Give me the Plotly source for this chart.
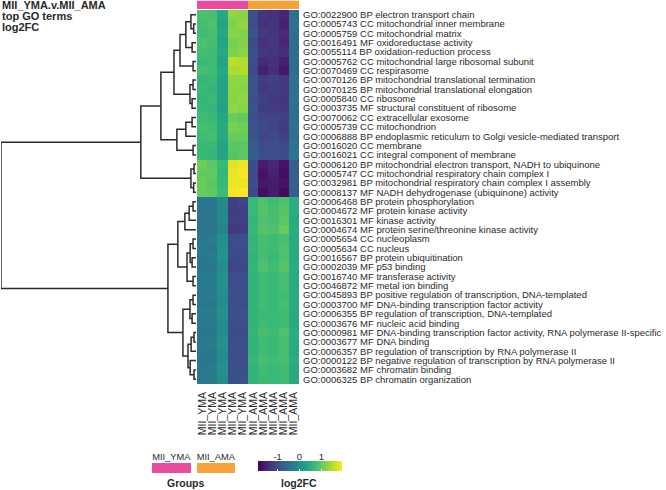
import plotly.graph_objects as go

W, H = 666, 490

title_lines = ["MII_YMA.v.MII_AMA", "top GO terms", "log2FC"]
columns = ["MII_YMA"] * 5 + ["MII_AMA"] * 5
col_group = [0, 0, 0, 0, 0, 1, 1, 1, 1, 1]
groups = ["MII_YMA", "MII_AMA"]
group_colors = ["#ea4b9c", "#f7a139"]

go_terms = [
    "GO:0022900 BP electron transport chain",
    "GO:0005743 CC mitochondrial inner membrane",
    "GO:0005759 CC mitochondrial matrix",
    "GO:0016491 MF oxidoreductase activity",
    "GO:0055114 BP oxidation-reduction process",
    "GO:0005762 CC mitochondrial large ribosomal subunit",
    "GO:0070469 CC respirasome",
    "GO:0070126 BP mitochondrial translational termination",
    "GO:0070125 BP mitochondrial translational elongation",
    "GO:0005840 CC ribosome",
    "GO:0003735 MF structural constituent of ribosome",
    "GO:0070062 CC extracellular exosome",
    "GO:0005739 CC mitochondrion",
    "GO:0006888 BP endoplasmic reticulum to Golgi vesicle-mediated transport",
    "GO:0016020 CC membrane",
    "GO:0016021 CC integral component of membrane",
    "GO:0006120 BP mitochondrial electron transport, NADH to ubiquinone",
    "GO:0005747 CC mitochondrial respiratory chain complex I",
    "GO:0032981 BP mitochondrial respiratory chain complex I assembly",
    "GO:0008137 MF NADH dehydrogenase (ubiquinone) activity",
    "GO:0006468 BP protein phosphorylation",
    "GO:0004672 MF protein kinase activity",
    "GO:0016301 MF kinase activity",
    "GO:0004674 MF protein serine/threonine kinase activity",
    "GO:0005654 CC nucleoplasm",
    "GO:0005634 CC nucleus",
    "GO:0016567 BP protein ubiquitination",
    "GO:0002039 MF p53 binding",
    "GO:0016740 MF transferase activity",
    "GO:0046872 MF metal ion binding",
    "GO:0045893 BP positive regulation of transcription, DNA-templated",
    "GO:0003700 MF DNA-binding transcription factor activity",
    "GO:0006355 BP regulation of transcription, DNA-templated",
    "GO:0003676 MF nucleic acid binding",
    "GO:0000981 MF DNA-binding transcription factor activity, RNA polymerase II-specific",
    "GO:0003677 MF DNA binding",
    "GO:0006357 BP regulation of transcription by RNA polymerase II",
    "GO:0000122 BP negative regulation of transcription by RNA polymerase II",
    "GO:0003682 MF chromatin binding",
    "GO:0006325 BP chromatin organization",
]

log2fc = [
    [0.85, 0.80, 0.40, 1.30, 1.25, -0.95, -1.30, -1.35, -1.50, -0.50],
    [0.80, 0.85, 0.35, 1.20, 1.30, -1.00, -1.35, -1.30, -1.55, -0.45],
    [0.75, 0.80, 0.40, 1.25, 1.20, -0.90, -1.25, -1.30, -1.45, -0.50],
    [0.85, 0.80, 0.35, 1.15, 1.20, -1.05, -1.35, -1.25, -1.50, -0.55],
    [0.80, 0.75, 0.40, 1.20, 1.25, -0.95, -1.25, -1.30, -1.40, -0.50],
    [0.70, 0.75, 0.35, 1.55, 1.50, -1.00, -1.45, -1.35, -1.55, -0.55],
    [0.80, 0.75, 0.40, 1.45, 1.50, -1.05, -1.55, -1.40, -1.65, -0.55],
    [0.65, 0.70, 0.35, 1.30, 1.30, -0.90, -1.20, -1.15, -1.25, -0.45],
    [0.70, 0.65, 0.30, 1.30, 1.25, -0.90, -1.25, -1.20, -1.25, -0.50],
    [0.65, 0.70, 0.35, 1.25, 1.30, -0.95, -1.15, -1.25, -1.30, -0.45],
    [0.70, 0.65, 0.30, 1.30, 1.25, -0.90, -1.20, -1.20, -1.25, -0.50],
    [0.75, 0.70, 0.40, 1.05, 1.00, -0.95, -1.10, -1.10, -1.15, -0.50],
    [0.80, 0.75, 0.45, 1.15, 1.10, -0.90, -1.05, -1.10, -1.20, -0.45],
    [0.75, 0.80, 0.40, 1.05, 1.05, -0.90, -1.10, -1.05, -1.15, -0.50],
    [0.70, 0.70, 0.35, 0.95, 0.95, -0.80, -1.00, -1.00, -1.05, -0.45],
    [0.70, 0.65, 0.35, 0.90, 0.95, -0.75, -0.95, -0.95, -1.00, -0.40],
    [1.10, 0.95, 0.70, 1.80, 1.85, -1.00, -1.60, -1.50, -1.70, -0.75],
    [1.00, 1.00, 0.65, 1.85, 1.90, -1.05, -1.70, -1.55, -1.75, -0.75],
    [1.05, 0.95, 0.70, 1.85, 1.85, -1.00, -1.65, -1.60, -1.70, -0.70],
    [1.05, 1.00, 0.75, 1.90, 1.95, -1.05, -1.75, -1.60, -1.80, -0.80],
    [-0.40, -0.35, -0.05, -1.15, -1.10, 0.70, 0.85, 0.75, 0.85, 0.50],
    [-0.45, -0.40, -0.10, -1.20, -1.15, 0.70, 0.90, 0.80, 0.90, 0.50],
    [-0.40, -0.35, -0.05, -1.15, -1.15, 0.65, 0.85, 0.80, 0.95, 0.45],
    [-0.45, -0.40, -0.15, -1.25, -1.20, 0.70, 0.90, 0.85, 1.05, 0.50],
    [-0.35, -0.30, 0.00, -1.00, -0.95, 0.65, 0.80, 0.75, 0.80, 0.45],
    [-0.30, -0.35, 0.05, -1.00, -1.00, 0.65, 0.80, 0.75, 0.85, 0.45],
    [-0.35, -0.30, 0.10, -1.05, -1.00, 0.60, 0.80, 0.70, 0.85, 0.45],
    [-0.40, -0.35, 0.00, -1.10, -1.05, 0.65, 0.85, 0.75, 0.90, 0.50],
    [-0.35, -0.30, 0.05, -1.00, -0.95, 0.60, 0.75, 0.70, 0.80, 0.45],
    [-0.30, -0.30, 0.05, -0.95, -0.95, 0.60, 0.75, 0.70, 0.80, 0.45],
    [-0.35, -0.30, 0.00, -0.95, -0.95, 0.60, 0.75, 0.70, 0.75, 0.45],
    [-0.35, -0.35, 0.00, -1.00, -0.95, 0.60, 0.75, 0.70, 0.80, 0.45],
    [-0.30, -0.30, 0.05, -0.95, -0.90, 0.60, 0.70, 0.70, 0.75, 0.45],
    [-0.35, -0.30, 0.00, -0.95, -0.95, 0.60, 0.75, 0.70, 0.75, 0.45],
    [-0.40, -0.35, 0.00, -1.00, -1.00, 0.65, 0.80, 0.75, 0.85, 0.50],
    [-0.35, -0.30, 0.05, -0.95, -0.95, 0.60, 0.75, 0.70, 0.80, 0.45],
    [-0.35, -0.35, 0.00, -1.00, -0.95, 0.60, 0.75, 0.70, 0.80, 0.45],
    [-0.40, -0.35, 0.00, -1.00, -1.00, 0.65, 0.80, 0.75, 0.80, 0.50],
    [-0.35, -0.30, 0.05, -0.95, -0.95, 0.60, 0.75, 0.70, 0.75, 0.45],
    [-0.35, -0.30, 0.00, -0.95, -0.90, 0.60, 0.70, 0.70, 0.75, 0.45],
]

# row dendrogram: (merge height, left, right); leaves are row indices
row_tree = (1.0,
    (0.283,
        (0.18,
            (0.113,
                (0.082,
                    (0.052, (0.026, 0, (0.012, 1, 2)), (0.02, 3, 4)),
                    (0.015, 5, 6)),
                (0.031, (0.015, 7, 8), (0.02, 9, 10))),
            (0.098, (0.052, (0.02, 11, 12), 13), (0.015, 14, 15))),
        (0.026, (0.01, 16, 17), (0.012, 18, 19))),
    (0.144,
        (0.093,
            (0.057, (0.035, (0.015, 20, 21), 22), 23),
            (0.046, (0.03, (0.015, 24, 25), (0.02, 26, 27)), (0.015, 28, 29))),
        (0.067,
            (0.031, (0.015, 30, 31), (0.02, 32, 33)),
            (0.041, (0.025, (0.01, 34, 35), 36), (0.03, 37, (0.01, 38, 39))))))

zmin, zmax = -1.9, 1.95
cbar_ticks = [-1, 0, 1]

FONT = "Liberation Sans, Arial, sans-serif"
TXT = "#2a2a2a"


def px_x(p):
    return p / W


def px_y(p):
    return 1 - p / H


# dendrogram segments
dx, dy = [], []


def walk(node):
    if isinstance(node, int):
        return float(node), 0.0
    h, l, r = node
    yl, hl = walk(l)
    yr, hr = walk(r)
    dx.extend([hl, h, h, hr, None])
    dy.extend([yl, yl, yr, yr, None])
    return (yl + yr) / 2, h


walk(row_tree)

fig = go.Figure()

fig.add_trace(go.Heatmap(
    z=log2fc, x=list(range(len(columns))), y=list(range(len(go_terms))),
    colorscale="Viridis", zmin=zmin, zmax=zmax, xaxis="x", yaxis="y",
    colorbar=dict(orientation="h", x=px_x(300), xanchor="center",
                  y=px_y(473), yanchor="bottom", len=84, lenmode="pixels",
                  thickness=10, thicknessmode="pixels", outlinewidth=0,
                  showticklabels=False, tickvals=cbar_ticks, ticks="inside",
                  ticklen=2, tickcolor="white", xpad=0, ypad=0),
    hoverinfo="skip"))

fig.add_trace(go.Heatmap(
    z=[col_group], x=list(range(len(columns))), y=[0],
    colorscale=[[0, group_colors[0]], [0.5, group_colors[0]],
                [0.5, group_colors[1]], [1, group_colors[1]]],
    zmin=0, zmax=1, showscale=False, xaxis="x", yaxis="y2", hoverinfo="skip"))

fig.add_trace(go.Scatter(x=dx, y=dy, mode="lines", xaxis="x2", yaxis="y",
                         line=dict(color="#2b2b2b", width=1.5),
                         hoverinfo="skip", showlegend=False))

# group legend
fig.add_trace(go.Heatmap(
    z=[[0, 1]], x=groups, y=[0],
    colorscale=[[0, group_colors[0]], [0.5, group_colors[0]],
                [0.5, group_colors[1]], [1, group_colors[1]]],
    zmin=0, zmax=1, showscale=False, xgap=6, xaxis="x4", yaxis="y4",
    hoverinfo="skip"))

# invisible trace carrying the colorbar tick axis
fig.add_trace(go.Scatter(x=[zmin, zmax], y=[0, 0], mode="markers",
                         marker=dict(opacity=0), xaxis="x3", yaxis="y3",
                         hoverinfo="skip", showlegend=False))

fig.update_layout(
    template="none",
    width=W, height=H, margin=dict(l=0, r=0, t=0, b=0, autoexpand=False),
    paper_bgcolor="white", plot_bgcolor="white", showlegend=False,
    xaxis=dict(domain=[px_x(197), px_x(299)], range=[-0.5, 9.5],
               tickvals=list(range(len(columns))), ticktext=columns,
               tickangle=-90, tickfont=dict(family=FONT, size=10.5, color=TXT),
               ticklabelstandoff=5,
               showgrid=False, zeroline=False, showline=False, ticks="",
               anchor="y", automargin=False),
    yaxis=dict(domain=[px_y(384), px_y(10)], range=[len(go_terms) - 0.5, -0.5],
               tickvals=list(range(len(go_terms))), ticktext=go_terms,
               side="right", tickfont=dict(family=FONT, size=9.5, color=TXT),
               ticklabelstandoff=3,
               showgrid=False, zeroline=False, showline=False, ticks="",
               anchor="x", automargin=False),
    yaxis2=dict(domain=[px_y(9), px_y(0.5)], range=[-0.5, 0.5], visible=False,
                anchor="x"),
    xaxis2=dict(domain=[px_x(1), px_x(196)], range=[1.0, 0.0], visible=False,
                anchor="y"),
    xaxis3=dict(domain=[px_x(258), px_x(342)], range=[zmin, zmax],
                tickvals=cbar_ticks, ticktext=["-1", "0", "1"], side="top",
                tickfont=dict(family=FONT, size=9.5, color=TXT), ticks="",
                showgrid=False, zeroline=False, showline=False, anchor="y3",
                automargin=False),
    yaxis3=dict(domain=[px_y(473), px_y(463)], visible=False, anchor="x3"),
    xaxis4=dict(domain=[px_x(149), px_x(238)], side="top", ticks="",
                tickfont=dict(family=FONT, size=9.3, color=TXT),
                showgrid=False, zeroline=False, showline=False, anchor="y4",
                automargin=False),
    yaxis4=dict(domain=[px_y(473), px_y(463)], visible=False, anchor="x4"),
)

ann = []
for i, t in enumerate(title_lines):
    ann.append(dict(text="<b>%s</b>" % t, x=px_x(0), y=px_y(5 + 11 * i),
                    xref="paper", yref="paper", xanchor="left", yanchor="middle",
                    showarrow=False, font=dict(family=FONT, size=11, color=TXT)))
ann.append(dict(text="<b>Groups</b>", x=px_x(185), y=px_y(483), xref="paper",
                yref="paper", xanchor="center", yanchor="middle", showarrow=False,
                font=dict(family=FONT, size=10.5, color=TXT)))
ann.append(dict(text="<b>log2FC</b>", x=px_x(299), y=px_y(483), xref="paper",
                yref="paper", xanchor="center", yanchor="middle", showarrow=False,
                font=dict(family=FONT, size=10.5, color=TXT)))
fig.update_layout(annotations=ann)

fig.write_html("out.html",
               config={"displayModeBar": False, "staticPlot": True},
               post_script="document.body.style.margin='0';"
                           "document.body.style.padding='0';")
